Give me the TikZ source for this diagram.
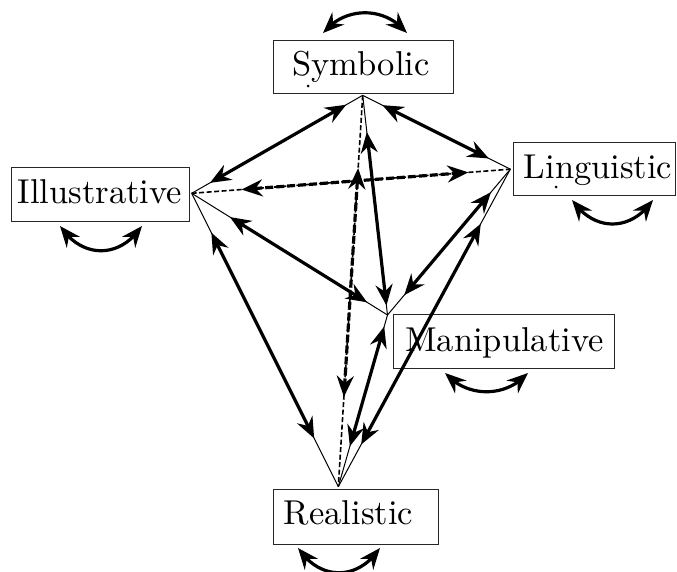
\documentclass[tikz,border=0pt]{standalone}
\usepackage{graphicx}
\usetikzlibrary{arrows.meta,calc,bending}
\begin{document}
\begin{tikzpicture}[x=1pt,y=-1pt,
  >={Stealth[length=21pt,width=17pt,inset=7pt]},
  fine line/.style={line width=1pt},
  fine dash/.style={line width=1.6pt,dash pattern=on 5pt off 2.5pt},
  big arrow/.style={line width=3.2pt,<->},
  big dash/.style={line width=3.2pt,<->,dash pattern=on 8pt off 3pt},
  boxnode/.style={draw=black!85,line width=1pt,rectangle,inner sep=0pt},
  labeltext/.style={anchor=base,inner sep=0pt},
  loop arrow/.style={line width=3.2pt,<->}]
\useasboundingbox (0,0) rectangle (677,571);

% boxes
\node[boxnode,minimum width=180pt,minimum height=53pt] (symb) at (363,66.5) {};
\node[boxnode,minimum width=178pt,minimum height=54pt] (illu) at (100,194) {};
\node[boxnode,minimum width=162pt,minimum height=53pt] (ling) at (594,168.5) {};
\node[boxnode,minimum width=221pt,minimum height=54pt] (mani) at (503.5,341) {};
\node[boxnode,minimum width=165pt,minimum height=55pt] (real) at (355.5,516.5) {};

% texts
\node[labeltext] (symbt) at (361,75) {\scalebox{3.45}{Symbolic}};
\node[labeltext] (illut) at (100,203) {\scalebox{3.45}{Illustrative}};
\node[labeltext] (lingt) at (598,178) {\scalebox{3.45}{Linguistic}};
\node[labeltext] (manit) at (504.5,351.5) {\scalebox{3.45}{Manipulative}};
\node[labeltext] (realt) at (348.5,524) {\scalebox{3.45}{Realistic}};
\fill (308,86) circle (1.5pt);
\fill (556,187) circle (1.5pt);

% apex points
\coordinate (S) at (362.7,95.3);
\coordinate (I) at (191.7,193.3);
\coordinate (L) at (510.3,169.2);
\coordinate (M) at (387.5,315);
\coordinate (R) at (338.3,486.7);

% thin full lines
\draw[fine line] (S) -- (I);
\draw[fine line] (S) -- (L);
\draw[fine line] (S) -- (M);
\draw[fine line] (I) -- (M);
\draw[fine line] (L) -- (M);
\draw[fine line] (I) -- (R);
\draw[fine line] (M) -- (R);
\draw[fine line] (L) -- (R);
\draw[fine dash] (I) -- (L);
\draw[fine dash] (S) -- (R);

% thick double arrows
\draw[big arrow, shorten <=21pt, shorten >=19pt] (I) -- (S);
\draw[big arrow, shorten <=22pt, shorten >=24pt] (S) -- (L);
\draw[big arrow, shorten <=37pt, shorten >=9.5pt] (S) -- (M);
\draw[big arrow, shorten <=45pt, shorten >=24pt] (I) -- (M);
\draw[big arrow, shorten <=30pt, shorten >=26pt] (L) -- (M);
\draw[big arrow, shorten <=44pt, shorten >=54pt] (I) -- (R);
\draw[big arrow, shorten <=12pt, shorten >=42pt] (M) -- (R);
\draw[big arrow, shorten <=62pt, shorten >=48pt] (L) -- (R);
\draw[big dash, shorten <=50pt, shorten >=42pt] (I) -- (L);
\draw[big dash, shorten <=73pt, shorten >=90pt] (S) -- (R);

% self loops
\coordinate (sA) at (323,33); \coordinate (sB) at (407,33);
\coordinate (iA) at (60,226); \coordinate (iB) at (142,226);
\coordinate (lA) at (572,200); \coordinate (lB) at (653,200);
\coordinate (mA) at (445,373); \coordinate (mB) at (528,373);
\coordinate (rA) at (298,548); \coordinate (rB) at (380,548);
\draw[loop arrow] (sA) .. controls ($(sA)+(22,-27)$) and ($(sB)+(-22,-27)$) .. (sB);
\draw[loop arrow] (iA) .. controls ($(iA)+(22,33)$) and ($(iB)+(-22,33)$) .. (iB);
\draw[loop arrow] (lA) .. controls ($(lA)+(22,32)$) and ($(lB)+(-22,32)$) .. (lB);
\draw[loop arrow] (mA) .. controls ($(mA)+(22,25)$) and ($(mB)+(-22,25)$) .. (mB);
\draw[loop arrow] (rA) .. controls ($(rA)+(22,33)$) and ($(rB)+(-22,33)$) .. (rB);
\end{tikzpicture}
\end{document}
